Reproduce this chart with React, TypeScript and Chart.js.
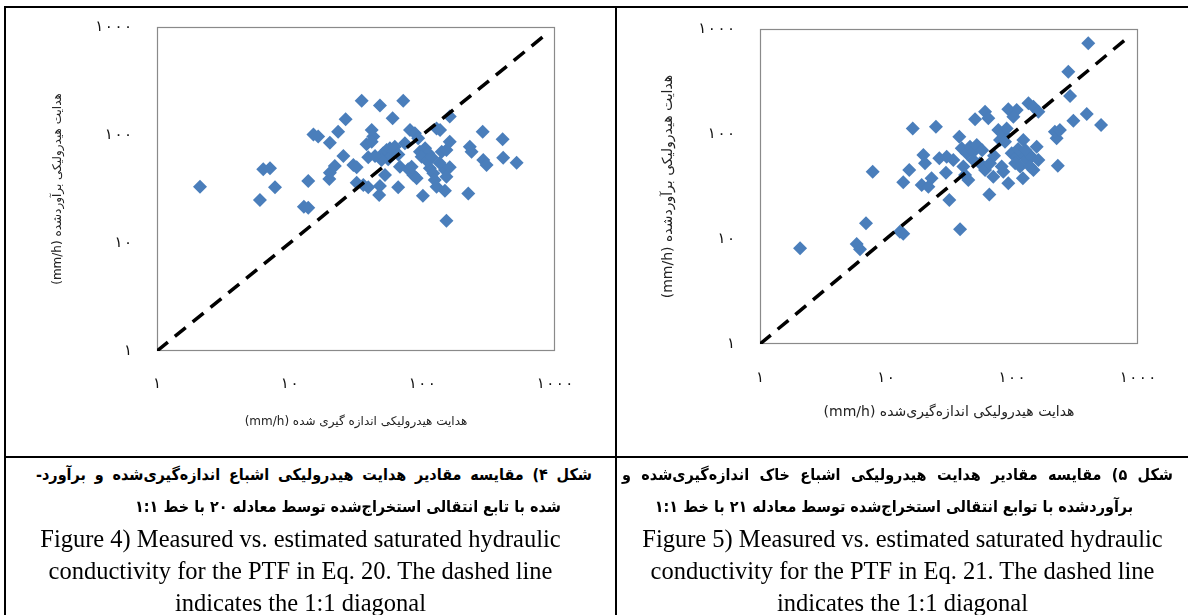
import React, { useEffect, useRef } from 'react';
import { Chart, registerables } from 'chart.js';

Chart.register(...registerables);

// ---------- data ----------
const tickValues = [1, 10, 100, 1000];
const tickLabels = ['۱', '۱۰', '۱۰۰', '۱۰۰۰'];

// Figure 4 (Eq. 20): measured vs estimated Ks (mm/h)
const fig4Measured = [
  2.11, 5.97, 6.32, 7.11, 7.75, 12.8, 13.8, 13.8, 15.1, 16.4,
  19.9, 20.1, 21.9, 20.1, 23.2, 25.4, 26.4, 30.2, 32.0, 32.0,
  35.9, 39.1, 34.9, 39.1, 41.5, 42.7, 38.0, 41.5, 47.3, 47.9,
  47.9, 50.7, 53.8, 57.0, 60.4, 55.3, 49.3, 52.3, 59.7, 65.8,
  67.8, 73.9, 71.8, 80.7, 87.9, 93.1, 78.3, 85.4, 90.6, 83.0,
  95.9, 105, 111, 98.8, 101, 114, 121, 124, 128, 128,
  136, 140, 152, 161, 148, 161, 152, 148, 152, 161,
  222, 228, 235, 285, 288, 305, 403, 407, 514, 62,
  66, 108, 118, 44, 135,
];
const fig4Estimated = [
  33.2, 25.0, 48.1, 49.1, 32.8, 21.7, 21.2, 37.5, 101, 96.6,
  39.2, 44.8, 51.6, 84.9, 107, 63.9, 140, 52.7, 50.2, 36.2,
  34.4, 32.8, 208, 62.1, 111, 96.6, 82.0, 86.7, 27.8, 33.7,
  188, 67.7, 72.6, 75.3, 70.1, 59.6, 58.7, 42.6, 143, 32.8,
  50.9, 83.7, 208, 111, 104, 93.2, 48.1, 42.6, 39.7, 50.9,
  70.1, 75.3, 67.7, 63.0, 27.4, 49.1, 44.2, 38.3, 33.2, 115,
  111, 70.1, 72.6, 86.7, 47.4, 50.2, 41.1, 30.5, 16.1, 148,
  28.8, 77.9, 70.1, 107, 58.7, 52.7, 91.2, 61.7, 55.4, 78,
  66, 58, 62, 64, 55,
];
const fig4Diagonal = [1, 900];

// Figure 5 (Eq. 21): measured vs estimated Ks (mm/h)
const fig5Measured = [
  2.08, 5.85, 6.22, 6.94, 7.84, 12.9, 13.7, 13.7, 15.3, 16.3,
  19.2, 21.7, 23.0, 19.8, 20.4, 24.9, 26.5, 30.3, 34.2, 29.9,
  31.8, 38.2, 38.7, 39.9, 43.7, 46.4, 49.3, 52.5, 41.1, 42.4,
  45.0, 49.3, 55.7, 50.9, 61.1, 64.9, 61.1, 66.9, 66.1, 71.1,
  77.9, 85.3, 80.3, 90.7, 88.0, 85.3, 93.5, 82.8, 93.5, 109,
  102.5, 99.4, 109, 119, 131, 106, 116, 123, 122, 135,
  148, 162, 143, 157, 162, 148, 139, 226, 219, 240,
  231, 280, 289, 307, 392, 403, 509, 72, 58, 112,
  128,
];
const fig5Estimated = [
  8.15, 8.96, 7.98, 14.1, 43.8, 11.7, 11.2, 34.7, 45.4, 113,
  32.7, 31.5, 37.8, 63.1, 52.6, 117, 58.7, 60.8, 56.5, 42.8,
  23.5, 94.3, 12.4, 73.1, 65.5, 75.7, 67.9, 78.6, 48.9, 40.7,
  36.5, 56.5, 52.6, 138, 163, 141, 45.4, 52.6, 26.6, 39.2,
  109, 101, 87.7, 113, 84.5, 43.8, 33.9, 48.9, 172, 169,
  146, 65.5, 60.8, 65.5, 56.5, 52.6, 48.9, 87.7, 37.8, 196,
  182, 163, 60.8, 75.7, 56.5, 45.4, 48.9, 91, 105, 109,
  49.9, 392, 230, 134, 155, 731, 122, 62, 70, 72,
  70,
];
const fig5Diagonal = [1, 850];

const fig4XTitle = '(mm/h) هدایت هیدرولیکی اندازه گیری شده';
const fig4YTitle = '(mm/h) هدایت هیدرولیکی برآوردشده';
const fig5XTitle = '(mm/h) هدایت هیدرولیکی اندازه‌گیری‌شده';
const fig5YTitle = '(mm/h) هدایت هیدرولیکی برآوردشده';

const fig4CaptionFa = [
  'شکل ۴) مقایسه مقادیر هدایت هیدرولیکی اشباع اندازه‌گیری‌شده و برآورد-',
  'شده با تابع انتقالی استخراج‌شده توسط معادله ۲۰ با خط ۱:۱',
];
const fig4CaptionEn = [
  'Figure 4) Measured vs. estimated saturated hydraulic',
  'conductivity for the PTF in Eq. 20. The dashed line',
  'indicates the 1:1 diagonal',
];
const fig5CaptionFa = [
  'شکل ۵) مقایسه مقادیر هدایت هیدرولیکی اشباع خاک اندازه‌گیری‌شده و',
  'برآوردشده با توابع انتقالی استخراج‌شده توسط معادله ۲۱ با خط ۱:۱',
];
const fig5CaptionEn = [
  'Figure 5) Measured vs. estimated saturated hydraulic',
  'conductivity for the PTF in Eq. 21. The dashed line',
  'indicates the 1:1 diagonal',
];

// ---------- chart helpers ----------
type Frame = {
  width: number; height: number;
  left: number; top: number; right: number; bottom: number;
  yTickPad: number; xTickPad: number; yTitlePad: number; xTitlePad: number;
  titleSize: number;
};

const framePlugin = {
  id: 'plotFrame',
  beforeDatasetsDraw(chart: any) {
    const { ctx, chartArea: a } = chart;
    ctx.save();
    ctx.strokeStyle = '#8a8a8a';
    ctx.lineWidth = 1.2;
    ctx.strokeRect(a.left + 0.5, a.top + 0.5, a.right - a.left - 1, a.bottom - a.top - 1);
    ctx.restore();
  },
};

const FA_FONT = "'DejaVu Sans', sans-serif";

function buildConfig(measured: number[], estimated: number[], diagonal: number[], xTitle: string, yTitle: string, f: Frame): any {
  const points = measured.map((x, i) => ({ x, y: estimated[i] }));
  const line = diagonal.map((v) => ({ x: v, y: v }));
  const tickFont = { family: FA_FONT, size: 15 };
  const titleFont = { family: FA_FONT, size: f.titleSize };
  const setTicks = (axis: any) => { axis.ticks = tickValues.map((v) => ({ value: v })); };
  const label = (v: any) => {
    const i = tickValues.indexOf(Number(v));
    return i >= 0 ? tickLabels[i].split('').join('\u200A') : '';
  };
  return {
    type: 'scatter',
    data: {
      datasets: [
        {
          data: line, showLine: true, borderColor: '#000', borderWidth: 3.5,
          borderDash: [14, 9], pointRadius: 0, fill: false,
        },
        {
          data: points, pointStyle: 'rectRot', pointRadius: 7,
          backgroundColor: '#4A7EBB', pointBackgroundColor: '#4A7EBB', borderWidth: 0, pointBorderWidth: 0,
        },
      ],
    },
    options: {
      animation: false,
      responsive: false,
      events: [],
      layout: { padding: { left: 0, top: f.top, right: f.width - f.right, bottom: 0 } },
      plugins: { legend: { display: false }, tooltip: { enabled: false } },
      scales: {
        x: {
          type: 'logarithmic', position: 'bottom', min: 1, max: 1000,
          grid: { display: false, drawTicks: true, tickLength: f.xTickPad }, border: { display: false },
          afterBuildTicks: setTicks,
          afterFit: (s: any) => { s.height = f.height - f.bottom; },
          ticks: { callback: label, autoSkip: false, maxRotation: 0, padding: 0, color: '#111', font: tickFont },
          title: { display: true, text: xTitle, color: '#222', font: titleFont, padding: { top: 0, bottom: f.xTitlePad } },
        },
        y: {
          type: 'logarithmic', position: 'left', min: 1, max: 1000,
          grid: { display: false, drawTicks: true, tickLength: f.yTickPad }, border: { display: false },
          afterBuildTicks: setTicks,
          afterFit: (s: any) => { s.width = f.left; },
          ticks: { callback: label, autoSkip: false, padding: 0, color: '#111', font: tickFont },
          title: { display: true, text: yTitle, color: '#222', font: titleFont, padding: { top: f.yTitlePad, bottom: 0 } },
        },
      },
    },
    plugins: [framePlugin],
  };
}

const leftFrame: Frame = { width: 612, height: 455, left: 157, top: 27, right: 555, bottom: 351, yTickPad: 25, xTickPad: 24, yTitlePad: 51, xTitlePad: 26, titleSize: 12 };
const rightFrame: Frame = { width: 588, height: 455, left: 160, top: 29, right: 538, bottom: 344, yTickPad: 25, xTickPad: 25, yTitlePad: 60, xTitlePad: 34, titleSize: 14 };

const faLine: React.CSSProperties = {
  position: 'absolute', direction: 'rtl',
  fontFamily: "'DejaVu Sans Condensed', 'DejaVu Sans', sans-serif", fontStretch: 'condensed',
  fontSize: 16, fontWeight: 'bold',
  lineHeight: '22px', height: 22, color: '#000', whiteSpace: 'nowrap',
};
const enLine: React.CSSProperties = {
  position: 'absolute', fontFamily: "'Liberation Serif', 'Times New Roman', serif", fontSize: 24.5,
  lineHeight: '28px', height: 28, color: '#000', textAlign: 'center', whiteSpace: 'nowrap',
};

export default function App() {
  const leftRef = useRef<HTMLCanvasElement | null>(null);
  const rightRef = useRef<HTMLCanvasElement | null>(null);

  useEffect(() => {
    const c1 = new Chart(leftRef.current as HTMLCanvasElement, buildConfig(fig4Measured, fig4Estimated, fig4Diagonal, fig4XTitle, fig4YTitle, leftFrame));
    const c2 = new Chart(rightRef.current as HTMLCanvasElement, buildConfig(fig5Measured, fig5Estimated, fig5Diagonal, fig5XTitle, fig5YTitle, rightFrame));
    return () => { c1.destroy(); c2.destroy(); };
  }, []);

  const black = '#000';
  return (
    <div style={{ position: 'fixed', left: 0, top: 0, width: 1188, height: 615, background: '#fff', overflow: 'hidden' }}>
      <canvas ref={leftRef} width={leftFrame.width} height={leftFrame.height}
        style={{ position: 'absolute', left: 0, top: 0, width: leftFrame.width, height: leftFrame.height }} />
      <canvas ref={rightRef} width={rightFrame.width} height={rightFrame.height}
        style={{ position: 'absolute', left: 600, top: 0, width: rightFrame.width, height: rightFrame.height }} />

      {/* table rules */}
      <div style={{ position: 'absolute', left: 4, top: 6, width: 1184, height: 2, background: black }} />
      <div style={{ position: 'absolute', left: 4, top: 6, width: 2, height: 609, background: black }} />
      <div style={{ position: 'absolute', left: 615, top: 6, width: 2, height: 609, background: black }} />
      <div style={{ position: 'absolute', left: 4, top: 456, width: 1184, height: 2, background: black }} />

      {/* captions, figure 4 */}
      <div style={{ ...faLine, left: 36, width: 556, top: 464, textAlign: 'justify', textAlignLast: 'justify' as any }}>{fig4CaptionFa[0]}</div>
      <div style={{ ...faLine, left: 48, width: 600, top: 496, textAlign: 'center' }}>{fig4CaptionFa[1]}</div>
      {fig4CaptionEn.map((t, i) => (
        <div key={'e4' + i} style={{ ...enLine, left: -4, width: 609, top: 525 + i * 32 }}>{t}</div>
      ))}

      {/* captions, figure 5 */}
      <div style={{ ...faLine, left: 622, width: 551, top: 464, textAlign: 'justify', textAlignLast: 'justify' as any }}>{fig5CaptionFa[0]}</div>
      <div style={{ ...faLine, left: 594, width: 600, top: 496, textAlign: 'center' }}>{fig5CaptionFa[1]}</div>
      {fig5CaptionEn.map((t, i) => (
        <div key={'e5' + i} style={{ ...enLine, left: 617, width: 571, top: 525 + i * 32 }}>{t}</div>
      ))}
    </div>
  );
}
